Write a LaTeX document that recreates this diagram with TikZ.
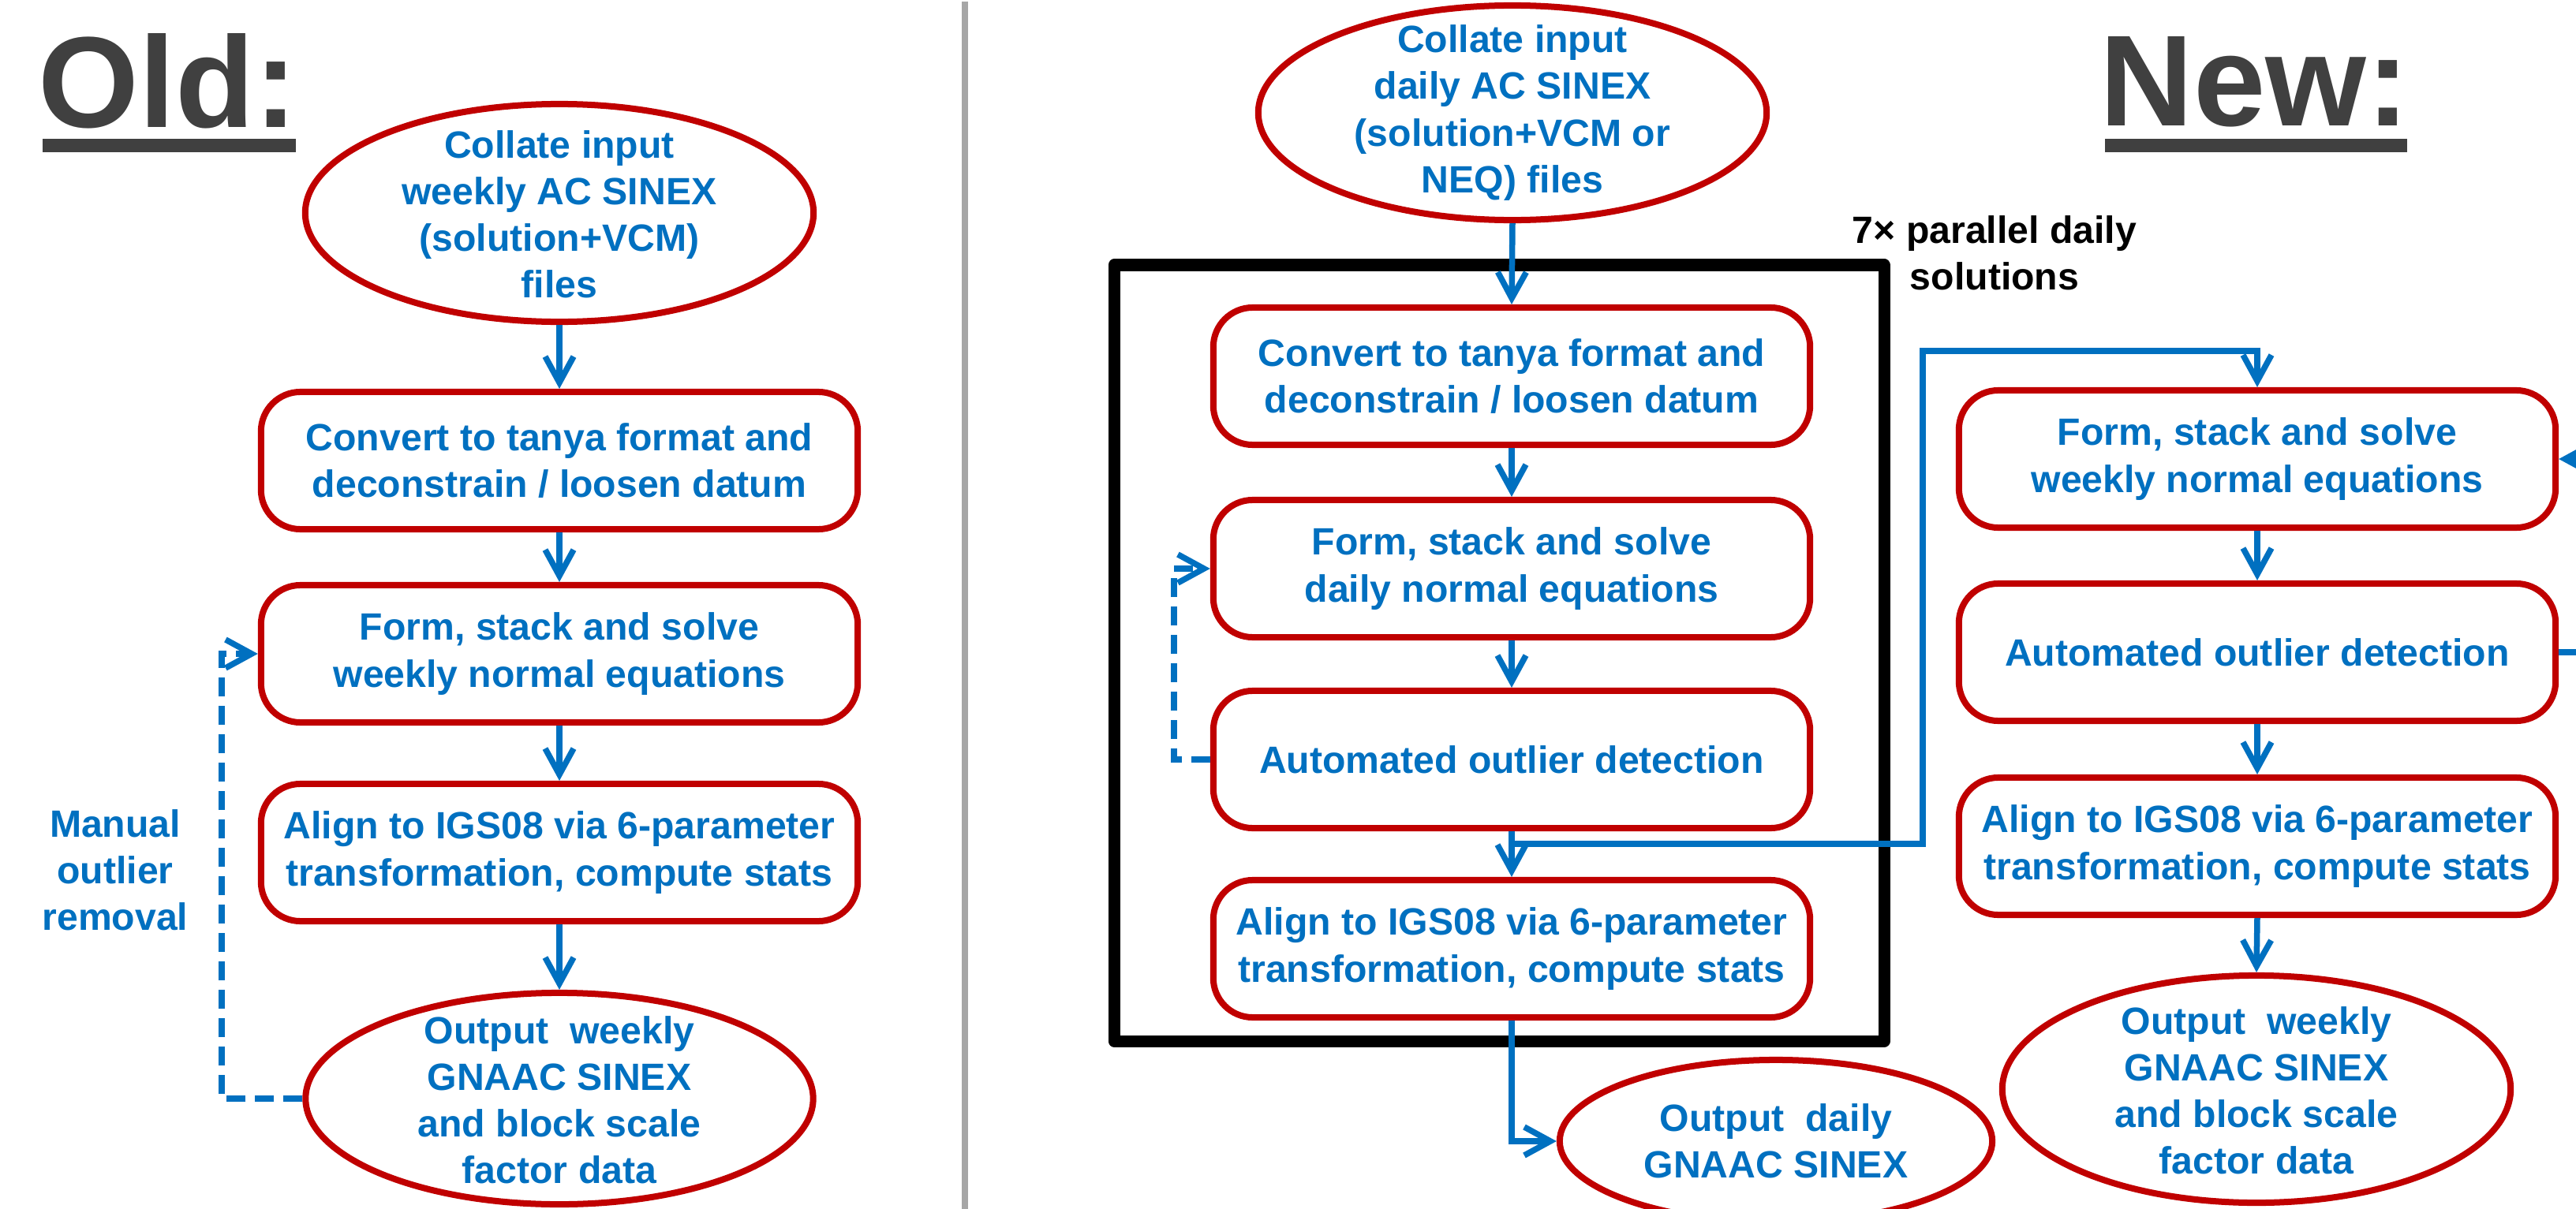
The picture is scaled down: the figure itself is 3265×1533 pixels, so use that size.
\documentclass[tikz,border=0pt]{standalone}
\usepackage{fontspec}
\setmainfont{Liberation Sans}
\usetikzlibrary{arrows.meta,shapes.geometric}
\definecolor{myblue}{HTML}{0070C0}
\definecolor{myred}{HTML}{C00000}
\definecolor{titlegray}{HTML}{404040}
\definecolor{divgray}{HTML}{A6A6A6}
\begin{document}
\begin{tikzpicture}[x=0.01cm,y=-0.01cm,
  txt/.style={font=\fontsize{13.7pt}{16.8pt}\selectfont\bfseries, text=myblue, align=center, inner sep=0pt},
  procbox/.style={txt, draw=myred, line width=0.08cm, rounded corners=0.5cm, minimum width=7.56cm, minimum height=1.74cm, fill=white},
  ovalbox/.style={ellipse, draw=myred, line width=0.08cm, fill=white, inner sep=0pt},
  flow/.style={draw=myblue, line width=0.075cm, -{Straight Barb[length=0.33cm,width=0.36cm]}},
  loopback/.style={flow, dash pattern=on 0.24cm off 0.12cm},
  titletext/.style={font=\fontsize{46.7pt}{50pt}\selectfont\bfseries, text=titlegray, inner sep=0pt, anchor=base},
]
\useasboundingbox (0,0) rectangle (3265,1533);
\clip (0,0) rectangle (3265,1533);
\fill[white] (0,0) rectangle (3265,1533);

% divider
\draw[divgray, line width=0.08cm] (1223,2) -- (1223,1533);

% titles
\node[titletext] (oldt) at (213,161) {Old:};
\fill[titlegray] (54,176) rectangle (375,193);
\node[titletext] (newt) at (2858,159) {New:};
\fill[titlegray] (2668,176) rectangle (3051,193);

% ---------------- Old column ----------------
\node[ovalbox, minimum width=6.44cm, minimum height=2.76cm] (oe1) at (709,270) {};
\node[txt] (oe1t) at (709,272) {Collate input\\weekly AC SINEX\\(solution+VCM)\\files};
\node[procbox] (ob1) at (709,584) {Convert to tanya format and\\deconstrain / loosen datum};
\node[procbox] (ob2) at (709,829) {Form, stack and solve\\weekly normal equations};
\node[procbox] (ob3) at (709,1081) {Align to IGS08 via 6-parameter\\transformation, compute stats};
\node[ovalbox, minimum width=6.43cm, minimum height=2.68cm] (oe2) at (709,1393) {};
\node[txt] (oe2t) at (709,1395) {Output~ weekly\\GNAAC SINEX\\and block scale\\factor data};
\node[txt] (manual) at (146,1103) {Manual\\outlier\\removal};

\draw[flow] (oe1.south) -- (ob1.north);
\draw[flow] (ob1.south) -- (ob2.north);
\draw[flow] (ob2.south) -- (ob3.north);
\draw[flow] (ob3.south) -- (oe2.north);
\coordinate (oloop) at (281,1393);
\draw[loopback] (oe2.west) -- (oloop) |- (ob2.west);

% ---------------- Middle column ----------------
\draw[black, line width=0.15cm, line join=round] (1412,336) rectangle (2388,1320);
\node[txt, text=black] (par) at (2528,321) {7× parallel daily\\solutions};

\node[ovalbox, minimum width=6.44cm, minimum height=2.72cm] (me) at (1917,143) {};
\node[txt] (met) at (1917,143) {Collate input\\daily AC SINEX\\(solution+VCM or\\NEQ) files};
\node[procbox] (mb1) at (1916,477) {Convert to tanya format and\\deconstrain / loosen datum};
\node[procbox] (mb2) at (1916,721) {Form, stack and solve\\daily normal equations};
\node[procbox] (mb3) at (1916,963) {Automated outlier detection};
\node[procbox] (mb4) at (1916,1203) {Align to IGS08 via 6-parameter\\transformation, compute stats};
\node[ovalbox, minimum width=5.48cm, minimum height=2.06cm] (od) at (2251,1447) {};
\node[txt] (odt) at (2251,1447) {Output~ daily\\GNAAC SINEX};

\draw[flow] (me.south) -- (mb1.north);
\draw[flow] (mb1.south) -- (mb2.north);
\draw[flow] (mb2.south) -- (mb3.north);
\draw[flow] (mb3.south) -- (mb4.north);
\coordinate (mloop) at (1488,963);
\draw[loopback] (mb3.west) -- (mloop) |- (mb2.west);
\draw[flow] (mb4.south) |- (od.west);

% ---------------- Right column ----------------
\node[procbox] (rb1) at (2861,582) {Form, stack and solve\\weekly normal equations};
\node[procbox] (rb2) at (2861,827) {Automated outlier detection};
\node[procbox] (rb3) at (2861,1073) {Align to IGS08 via 6-parameter\\transformation, compute stats};
\node[ovalbox, minimum width=6.44cm, minimum height=2.88cm] (re) at (2860,1381) {};
\node[txt] (ret) at (2860,1383) {Output~ weekly\\GNAAC SINEX\\and block scale\\factor data};

\draw[flow] (rb1.south) -- (rb2.north);
\draw[flow] (rb2.south) -- (rb3.north);
\draw[flow] (rb3.south) -- (re.north);
\coordinate (rloopA) at (3320,827);
\coordinate (rloopB) at (3320,582);
\draw[loopback] (rb2.east) -- (rloopA) -- (rloopB) -- (rb1.east);

% branch from daily flow to weekly stacking
\coordinate (split) at (1916,1070);
\coordinate (bendA) at (2437,1070);
\coordinate (bendB) at (2437,445);
\draw[flow] (split) -- (bendA) -- (bendB) -| (rb1.north);
\end{tikzpicture}
\end{document}
